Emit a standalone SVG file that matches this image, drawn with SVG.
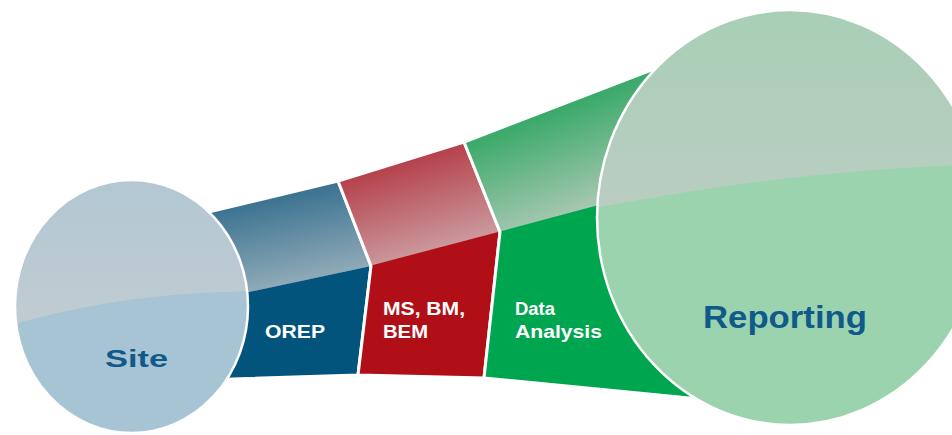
<svg xmlns="http://www.w3.org/2000/svg" width="952" height="435" viewBox="0 0 952 435">
  <style>
    .edge { fill: none; stroke: #ffffff; stroke-width: 3; stroke-linejoin: round; }
    .ring { fill: none; stroke: #ffffff; stroke-width: 2.5; }
    .stage { font-family: "Liberation Sans", Arial, sans-serif; font-weight: bold; font-size: 18px; fill: #ffffff; }
    .end { font-family: "Liberation Sans", Arial, sans-serif; font-weight: bold; fill: #0f5a8a; }
  </style>
  <defs>
    <linearGradient id="gBlue" gradientUnits="userSpaceOnUse" x1="274" y1="196" x2="293" y2="282">
      <stop offset="0" stop-color="#3a7290"/>
      <stop offset="1" stop-color="#8fa9b7"/>
    </linearGradient>
    <linearGradient id="gRed" gradientUnits="userSpaceOnUse" x1="401" y1="161" x2="428" y2="250">
      <stop offset="0" stop-color="#b5404a"/>
      <stop offset="1" stop-color="#ca979b"/>
    </linearGradient>
    <linearGradient id="gGreen" gradientUnits="userSpaceOnUse" x1="560" y1="106" x2="598" y2="206">
      <stop offset="0" stop-color="#38a968"/>
      <stop offset="1" stop-color="#a9c8b2"/>
    </linearGradient>
    <linearGradient id="gSite" x1="0" y1="0" x2="0" y2="1">
      <stop offset="0" stop-color="#b1c7d3"/>
      <stop offset="1" stop-color="#c1ccd1"/>
    </linearGradient>
    <linearGradient id="gReport" x1="0" y1="0" x2="0" y2="1">
      <stop offset="0" stop-color="#a7cfb5"/>
      <stop offset="1" stop-color="#bacdc2"/>
    </linearGradient>
    <clipPath id="clipSite">
      <ellipse cx="131.5" cy="306.5" rx="116.5" ry="126.5"/>
    </clipPath>
    <clipPath id="clipReport">
      <ellipse cx="790" cy="217.5" rx="193" ry="207.5"/>
    </clipPath>
  </defs>

  <!-- funnel stages -->
  <g id="node-orep">
    <path d="M200 214 L338 181 L371 266 L200 303 Z" fill="url(#gBlue)"/>
    <path d="M200 302.5 L371 266 L358 375 L200 380 Z" fill="#02547d"/>
    <path class="edge" d="M200 214 L338 181 L371 266 L358 375 L200 380 Z"/>
    <text class="stage" x="265" y="338" textLength="60" lengthAdjust="spacingAndGlyphs">OREP</text>
  </g>

  <g id="node-ms-bm-bem">
    <path d="M338 181 L464 142 L500 232 L371 266 Z" fill="url(#gRed)"/>
    <path d="M371 265.5 L500 231.5 L484 378 L358 375 Z" fill="#b00f18"/>
    <path class="edge" d="M338 181 L464 142 L500 232 L484 378 L358 375 L371 266 Z"/>
    <text class="stage" x="383" y="315" textLength="82" lengthAdjust="spacingAndGlyphs">MS, BM,</text>
    <text class="stage" x="383" y="338" textLength="45" lengthAdjust="spacingAndGlyphs">BEM</text>
  </g>

  <g id="node-data-analysis">
    <path d="M464 142 L680 59 L694 180 L500 232 Z" fill="url(#gGreen)"/>
    <path d="M500 231.5 L694 179.5 L720 401 L484 378 Z" fill="#00a550"/>
    <path class="edge" d="M464 142 L680 59 L720 401 L484 378 L500 232 Z"/>
    <text class="stage" x="515" y="315" textLength="40" lengthAdjust="spacingAndGlyphs">Data</text>
    <text class="stage" x="515" y="338" textLength="87" lengthAdjust="spacingAndGlyphs">Analysis</text>
  </g>

  <!-- start and end discs -->
  <g id="node-site">
    <ellipse cx="131.5" cy="306.5" rx="116.5" ry="126.5" fill="#a7c4d5"/>
    <path clip-path="url(#clipSite)" d="M0 170 L260 170 L260 291 C150 292 80 305 0 328 Z" fill="url(#gSite)"/>
    <ellipse class="ring" cx="131.5" cy="306.5" rx="116.5" ry="126.5"/>
    <text class="end" x="105" y="367" font-size="24" textLength="63" lengthAdjust="spacingAndGlyphs">Site</text>
  </g>

  <g id="node-reporting">
    <ellipse cx="790" cy="217.5" rx="193" ry="207.5" fill="#9bd3ae"/>
    <path clip-path="url(#clipReport)" d="M590 0 L990 0 L990 164 C820 169 700 188 590 209 Z" fill="url(#gReport)"/>
    <ellipse class="ring" cx="790" cy="217.5" rx="193" ry="207.5"/>
    <text class="end" x="703" y="328" font-size="32" textLength="164" lengthAdjust="spacingAndGlyphs">Reporting</text>
  </g>
</svg>
